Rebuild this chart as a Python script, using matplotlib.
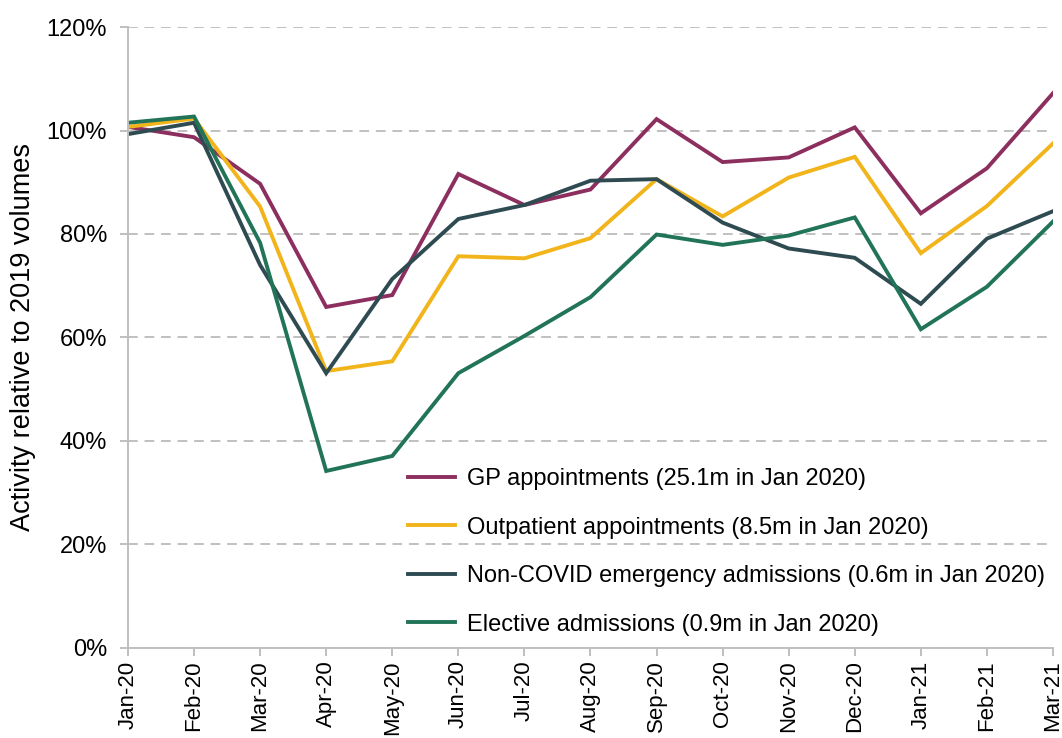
import matplotlib.pyplot as plt

plt.rcParams['font.family'] = ['Liberation Sans', 'DejaVu Sans']

months = ['Jan-20', 'Feb-20', 'Mar-20', 'Apr-20', 'May-20', 'Jun-20', 'Jul-20',
          'Aug-20', 'Sep-20', 'Oct-20', 'Nov-20', 'Dec-20', 'Jan-21', 'Feb-21', 'Mar-21']

# activity as % of the same month in 2019
gp = [100.7, 98.7, 89.7, 65.9, 68.2, 91.6, 85.6, 88.6, 102.2, 93.9, 94.8, 100.6, 84.0, 92.7, 107.2]
outpatient = [100.7, 102.3, 85.3, 53.5, 55.4, 75.7, 75.3, 79.2, 90.6, 83.4, 90.9, 94.9, 76.3, 85.4, 97.5]
emergency = [99.3, 101.5, 74.0, 53.1, 71.3, 82.9, 85.6, 90.3, 90.6, 82.2, 77.2, 75.4, 66.5, 79.1, 84.4]
elective = [101.5, 102.7, 78.3, 34.2, 37.1, 53.1, 60.3, 67.8, 79.9, 77.9, 79.7, 83.2, 61.6, 69.8, 82.4]

series = [
    (gp, '#8c2f5f', 'GP appointments (25.1m in Jan 2020)'),
    (outpatient, '#f2b41b', 'Outpatient appointments (8.5m in Jan 2020)'),
    (emergency, '#2f4b52', 'Non-COVID emergency admissions (0.6m in Jan 2020)'),
    (elective, '#217458', 'Elective admissions (0.9m in Jan 2020)'),
]

fig = plt.figure(figsize=(10.62, 7.38), dpi=100)
ax = fig.add_axes([0.1205, 0.122, 0.871, 0.8414])

x = range(len(months))
for vals, col, lab in series:
    ax.plot(x, vals, color=col, lw=2.8, label=lab, solid_joinstyle='miter')

ax.set_xlim(0, len(months) - 1)
ax.set_ylim(0, 120)
ax.set_yticks(range(0, 121, 20))
ax.set_yticklabels([f'{v}%' for v in range(0, 121, 20)])
ax.set_xticks(list(x))
ax.set_xticklabels(months, rotation=90)

ax.grid(axis='y', color='#c0c0c0', ls=(0, (5, 3.5)), lw=1.4)
ax.set_axisbelow(True)
for s in ['top', 'right']:
    ax.spines[s].set_visible(False)
for s in ['left', 'bottom']:
    ax.spines[s].set_color('#bfbfbf')
    ax.spines[s].set_linewidth(1.4)
ax.tick_params(axis='both', colors='#bfbfbf', labelcolor='black',
               length=6, width=1.4)
ax.tick_params(axis='y', labelsize=17, pad=9)
ax.tick_params(axis='x', labelsize=16, pad=3)
ax.set_ylabel('Activity relative to 2019 volumes', fontsize=19.5, labelpad=8)

ax.legend(loc='lower left', bbox_to_anchor=(0.3027, 0.02), frameon=False, fontsize=17,
          handlelength=2.0, handletextpad=0.5, labelspacing=1.12, borderpad=0,
          borderaxespad=0)

fig.savefig('out.png', dpi=100)
